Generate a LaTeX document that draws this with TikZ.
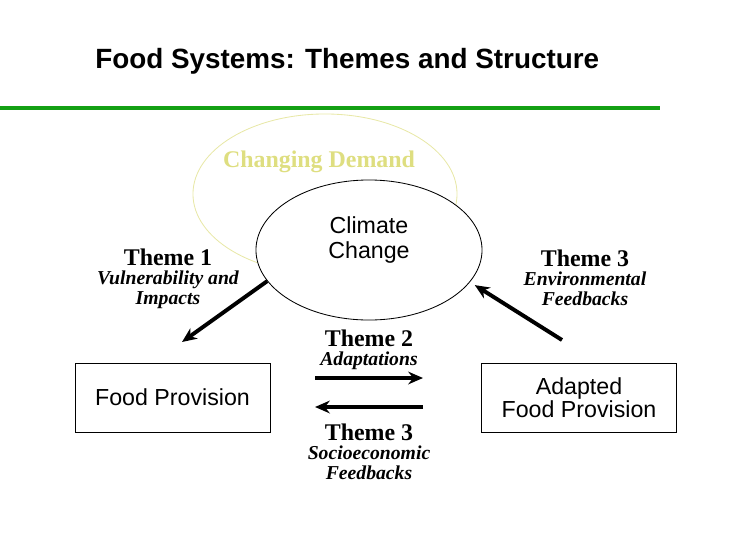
\documentclass[tikz,border=0pt]{standalone}
\usepackage{fontspec}
\setmainfont{Liberation Serif}
\setsansfont{Liberation Sans}
\usetikzlibrary{shapes,arrows.meta,positioning}
\definecolor{rulegreen}{RGB}{20,160,20}
\definecolor{demandline}{RGB}{232,232,168}
\definecolor{demandtext}{RGB}{222,222,128}

\begin{document}
\begin{tikzpicture}[
    x=0.025cm, y=-0.025cm,
    theme/.style={font=\fontsize{17}{19}\selectfont\bfseries, inner sep=0pt},
    subtheme/.style={font=\fontsize{14}{14.2}\selectfont\bfseries\itshape, align=center, inner sep=0pt},
    foodbox/.style={rectangle, draw=black, line width=0.6pt, minimum width=4.875cm, minimum height=1.725cm, align=center, font=\sffamily\fontsize{16.5}{15}\selectfont},
    bigarrow/.style={-{Stealth[length=10.5pt, width=9pt]}, line width=2.8pt}
]
    \useasboundingbox (0,0) rectangle (750,540);

    % Title and rule
    \node[anchor=west, inner sep=0pt, font=\sffamily\bfseries\fontsize{19.8}{22}\selectfont] (title) at (95,61) {Food Systems: Themes and Structure};
    \coordinate (ruleL) at (0,108);
    \coordinate (ruleR) at (660,108);
    \draw[line width=3.5pt, rulegreen] (ruleL) -- (ruleR);

    % Changing demand
    \node[ellipse, draw=demandline, line width=0.6pt, minimum width=6.6cm, minimum height=4cm] (demand) at (325,194) {};
    \node[font=\fontsize{17}{19}\selectfont\bfseries, text=demandtext] (demandlbl) at (319,162) {Changing Demand};

    % Themes
    \node[theme] (theme1) at (168,257) {Theme 1};
    \node[subtheme, below=3.5pt of theme1] (sub1) {Vulnerability and\\Impacts};

    \node[ellipse, draw=black, fill=white, line width=0.6pt, minimum width=5.65cm, minimum height=3.5cm] (climate) at (369,250) {};
    \node[align=center, font=\sffamily\fontsize{16.5}{18}\selectfont] (climatelbl) at (369,240) {Climate\\Change};

    \node[theme] (theme3env) at (585,258) {Theme 3};
    \node[subtheme, below=3.5pt of theme3env] (sub3env) {Environmental\\Feedbacks};

    \node[theme] (theme2) at (369,338) {Theme 2};
    \node[subtheme, below=3.5pt of theme2] (sub2) {Adaptations};

    \node[theme] (theme3soc) at (369,432) {Theme 3};
    \node[subtheme, below=3.5pt of theme3soc] (sub3soc) {Socioeconomic\\Feedbacks};

    % Boxes
    \node[foodbox] (food)    at (172.5,397.5) {Food Provision};
    \node[foodbox] (adapted) at (579,397.5)   {Adapted\\Food Provision};

    % Arrows
    \coordinate (t1end)   at (182,342);
    \coordinate (t3start) at (562,340);
    \coordinate (adL) at (315,378);
    \coordinate (adR) at (423,378);
    \coordinate (soL) at (315,407);
    \coordinate (soR) at (423,407);
    \draw[bigarrow] (climate.197) -- (t1end);
    \draw[bigarrow] (t3start) -- ([shift={(4,4)}]climate.343);
    \draw[bigarrow] (adL) -- (adR);
    \draw[bigarrow] (soR) -- (soL);

\end{tikzpicture}
\end{document}
